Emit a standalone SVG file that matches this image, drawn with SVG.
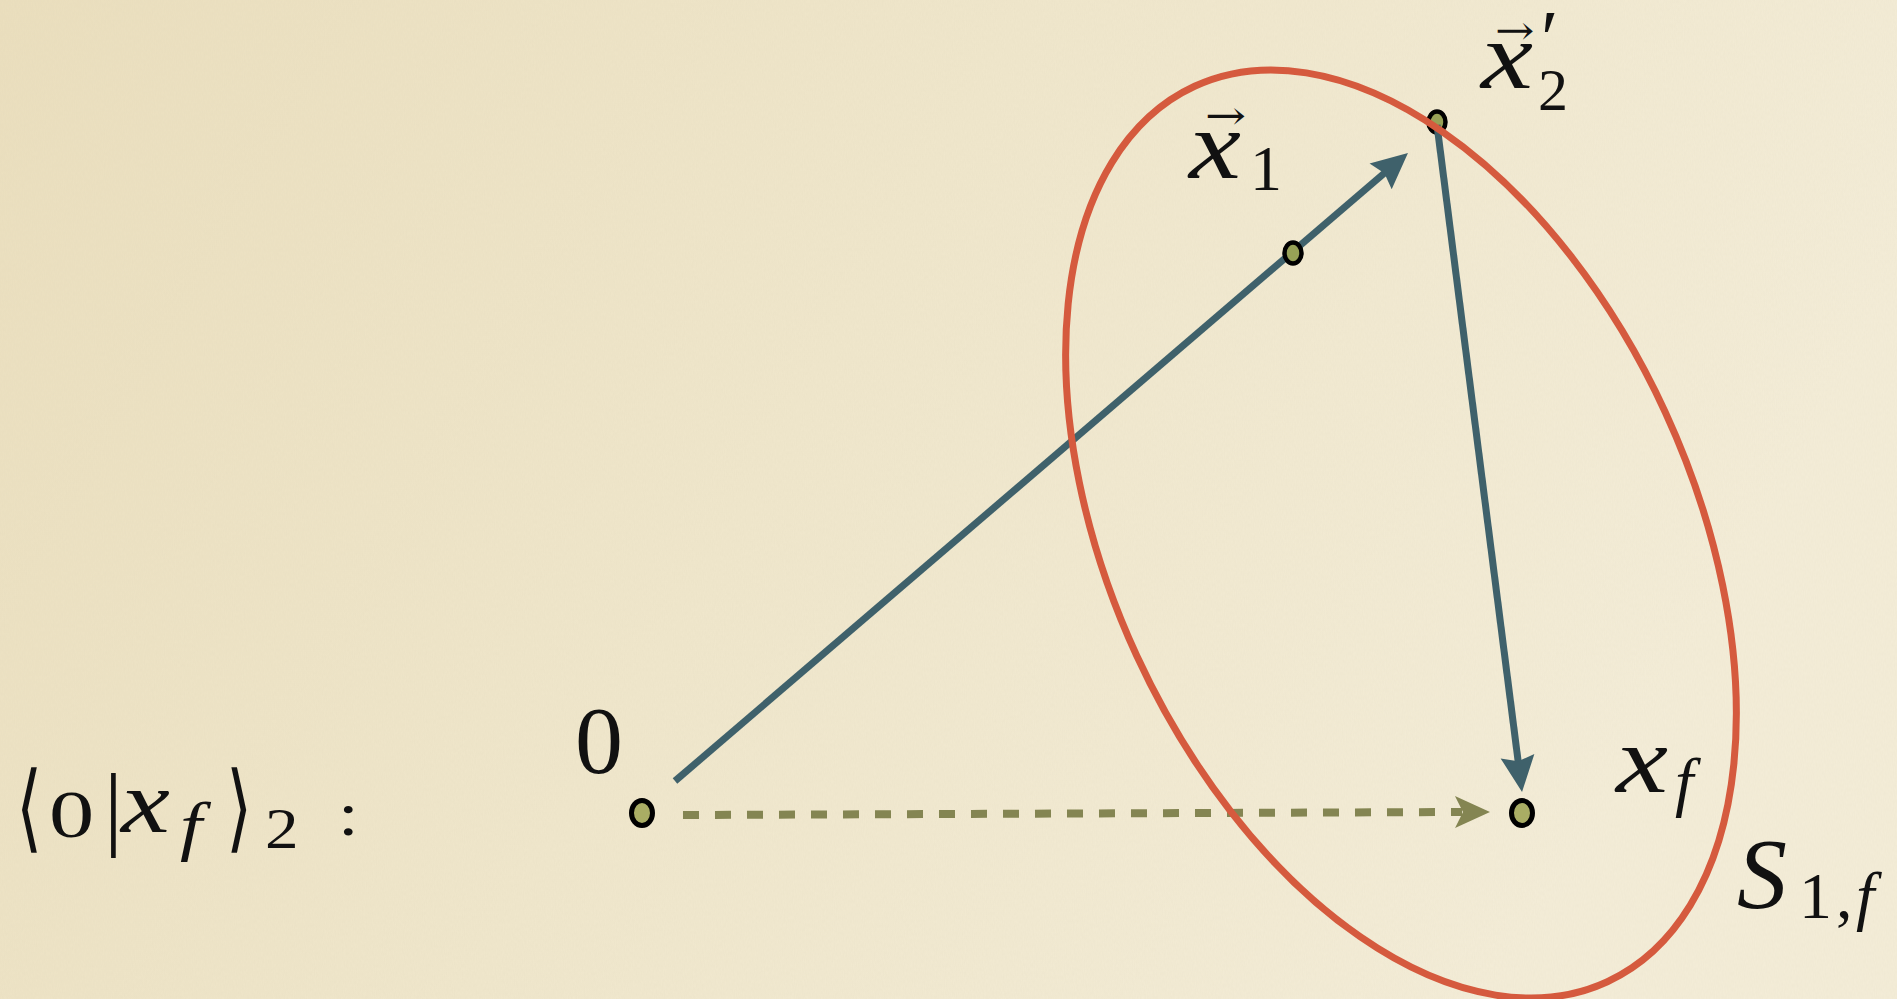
<svg xmlns="http://www.w3.org/2000/svg" width="1897" height="999" viewBox="0 0 1897 999">
<defs>
<linearGradient id="bg" x1="0" y1="0" x2="1" y2="0.3">
<stop offset="0" stop-color="#ebdfbe"/>
<stop offset="0.5" stop-color="#f0e7cc"/>
<stop offset="1" stop-color="#f4edd8"/>
</linearGradient>
<filter id="grain" x="0" y="0" width="100%" height="100%">
<feTurbulence type="fractalNoise" baseFrequency="0.9 0.25" numOctaves="2" seed="3" result="n"/>
<feColorMatrix in="n" type="matrix" values="0 0 0 0 0.55  0 0 0 0 0.5  0 0 0 0 0.35  0 0 0 0.09 0"/>
</filter>
<marker id="ahBlue" viewBox="-40 -20 45 40" refX="-28" refY="0" markerWidth="45" markerHeight="40" markerUnits="userSpaceOnUse" orient="auto">
<path d="M0,0 L-36,-17 L-31,0 L-36,17 Z" fill="#3f616b"/>
</marker>
<marker id="ahOlive" viewBox="-40 -20 45 40" refX="-28" refY="0" markerWidth="45" markerHeight="40" markerUnits="userSpaceOnUse" orient="auto">
<path d="M0,0 L-35,-16 L-27,0 L-35,16 Z" fill="#848552"/>
</marker>
<style>
.t{font-family:"Liberation Serif","Times New Roman",serif;fill:#111;}
.i{font-style:italic;}
.vec{font-family:"DejaVu Serif","DejaVu Sans",serif;fill:#111;}
.blue{stroke:#3f616b;stroke-width:7;fill:none;stroke-linecap:butt;}
.dash{stroke:#848552;stroke-width:8;fill:none;stroke-dasharray:16 16;}
.dotL{fill:#a9ad64;stroke:#000;stroke-width:5;}
.dotS{fill:#97a156;stroke:#000;stroke-width:4.5;}
.ell{fill:none;stroke:#d55a3e;stroke-width:7;}
.br{font-family:"DejaVu Sans","Liberation Serif",serif;fill:#111;}
</style>
</defs>
<rect width="1897" height="999" fill="url(#bg)"/>
<rect width="1897" height="999" filter="url(#grain)"/>

<g id="label-amplitude">
<text class="br" x="16" y="840" font-size="96" font-weight="200" transform="translate(16 0) scale(0.7 1) translate(-16 0)">⟨</text>
<text class="t" font-size="67" transform="matrix(1.35,0,0,1,49,837)">0</text>
<text class="t" font-size="94" x="104" y="838">|</text>
<text class="t i" font-size="88" transform="matrix(1.25,0,0,1,121,832)">x</text>
<text class="t i" font-size="66" transform="matrix(1.2,0,0,1,180,848)">f</text>
<text class="br" x="226" y="840" font-size="96" font-weight="200" transform="translate(226 0) scale(0.7 1) translate(-226 0)">⟩</text>
<text class="t" font-size="56" transform="matrix(1.2,0,0,1,265,848)">2</text>
<text class="t" font-size="62" transform="matrix(1.2,0,0,1,338,835)">:</text>
</g>

<g id="connectors">
<line id="arrow-0-x2" class="blue" x1="675" y1="781" x2="1386.7" y2="171.2" marker-end="url(#ahBlue)"/>
<line id="arrow-dashed-0-xf" class="dash" x1="683" y1="815" x2="1462" y2="812" marker-end="url(#ahOlive)"/>
</g>

<g id="node-x1">
<ellipse class="dotS" cx="1293" cy="253" rx="8.5" ry="10.5"/>
<text class="vec" font-size="50" transform="matrix(0.98,0,0,0.8,1205,129)">→</text>
<text class="t i" font-size="98" x="1189" y="178" textLength="52" lengthAdjust="spacingAndGlyphs">x</text>
<text class="t" font-size="64" x="1250" y="190">1</text>
</g>

<g id="node-x2">
<ellipse class="dotS" cx="1437" cy="122" rx="8.5" ry="10.5"/>
<text class="vec" font-size="50" transform="matrix(0.94,0,0,0.8,1495,44)">→</text>
<text class="t i" font-size="80" x="1536" y="66">′</text>
<text class="t i" font-size="96" x="1481" y="88" textLength="52" lengthAdjust="spacingAndGlyphs">x</text>
<text class="t" font-size="60" x="1538" y="110">2</text>
</g>

<g id="connector-x2-xf">
<line class="blue" x1="1437" y1="125" x2="1518.5" y2="764.2" marker-end="url(#ahBlue)"/>
</g>

<g id="node-S1f">
<ellipse class="ell" cx="1401" cy="534" rx="493" ry="291" transform="rotate(65.25 1401 534)"/>
<text class="t i" font-size="100" x="1737" y="907">S</text>
<text class="t" font-size="66" x="1799" y="918">1</text>
<text class="t" font-size="66" x="1836" y="918">,</text>
<text class="t i" font-size="66" x="1856" y="918">f</text>
</g>

<g id="node-0">
<ellipse class="dotL" cx="642" cy="813" rx="10.5" ry="12.5"/>
<text class="t" font-size="96" x="575" y="773">0</text>
</g>

<g id="node-xf">
<ellipse class="dotL" cx="1522" cy="813" rx="10.5" ry="12.5"/>
<text class="t i" font-size="96" x="1616" y="792" textLength="52" lengthAdjust="spacingAndGlyphs">x</text>
<text class="t i" font-size="66" x="1675" y="804">f</text>
</g>
</svg>
